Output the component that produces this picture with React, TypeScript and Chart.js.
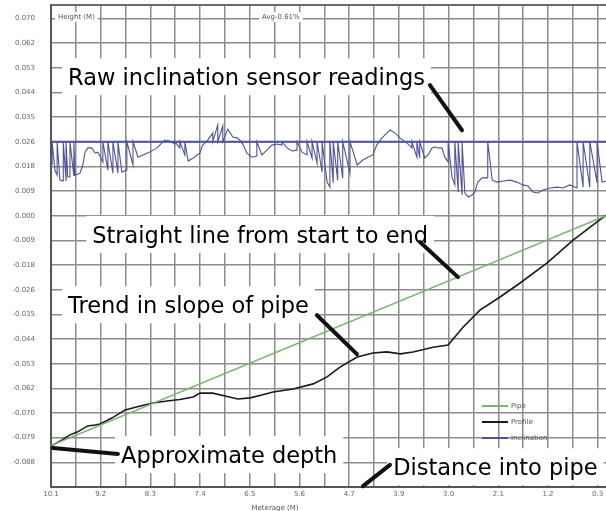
import React, { useEffect, useRef } from 'react';
import { Chart, registerables } from 'chart.js';

Chart.register(...registerables);

// ---- axis definitions ----
const X_TICK_LABELS = ['10.1', '9.2', '8.3', '7.4', '6.5', '5.6', '4.7', '3.9', '3.0', '2.1', '1.2', '0.3'];
const Y_TICK_LABELS = ['0.070', '0.062', '0.053', '0.044', '0.035', '0.026', '0.018', '0.009', '0.000', '-0.009', '-0.018', '-0.026', '-0.035', '-0.044', '-0.053', '-0.062', '-0.070', '-0.079', '-0.088'];
const X_START = 10.1;
const X_END = 0.15;
const X_LABEL_STEP = 0.891;
const Y_STEP = 0.0088;
const Y_MIN = -0.0968;
const Y_MAX = 0.0752;

// ---- series (meterage, height) ----
const PIPE: [number, number][] = [[10.1, -0.082], [0.15, 0.0]];

const PROFILE: [number, number][] = [
  [10.1, -0.0822], [9.9, -0.08], [9.76, -0.0782], [9.63, -0.0772], [9.44, -0.075], [9.31, -0.0747],
  [9.22, -0.0743], [9.01, -0.0722], [8.77, -0.0693], [8.5, -0.0679], [8.27, -0.0668], [8.02, -0.0661],
  [7.79, -0.0656], [7.55, -0.0647], [7.43, -0.0633], [7.2, -0.0633], [6.98, -0.0643], [6.75, -0.0654],
  [6.53, -0.065], [6.32, -0.064], [6.12, -0.0629], [5.76, -0.0618], [5.4, -0.06], [5.15, -0.0575],
  [4.92, -0.054], [4.61, -0.0504], [4.33, -0.049], [4.08, -0.0486], [3.84, -0.0493], [3.61, -0.0486],
  [3.25, -0.0469], [2.98, -0.0461], [2.71, -0.0397], [2.41, -0.0337], [2.05, -0.029], [1.69, -0.024],
  [1.21, -0.0169], [0.74, -0.0087], [0.31, -0.0022], [0.15, 0.0002],
];

const INCL_BASE = 0.0264;
const B = INCL_BASE;
const INCLINATION: [number, number][] = [
  [10.08, 0.0181], [10.08, B], [10.03, 0.0163], [9.99, 0.0145], [9.99, B], [9.94, 0.0127],
  [9.88, 0.0124], [9.88, B], [9.83, 0.0124], [9.83, B], [9.8, 0.0138], [9.76, 0.0138], [9.76, B],
  [9.69, 0.0141], [9.69, B], [9.67, 0.0145], [9.58, 0.0152], [9.53, 0.0181], [9.49, 0.0227],
  [9.44, 0.0242], [9.37, 0.0242], [9.31, 0.0224], [9.26, 0.0227], [9.17, 0.0192], [9.17, B],
  [9.08, 0.0163], [9.08, B], [8.99, 0.0152], [8.99, B], [8.9, 0.0152], [8.9, B], [8.83, 0.0156],
  [8.74, 0.0163], [8.74, B], [8.63, 0.0181], [8.63, B], [8.54, 0.0209], [8.45, 0.0217], [8.33, 0.0227],
  [8.2, 0.0242], [8.11, 0.026], [8.06, 0.027], [7.97, 0.0267], [7.88, 0.0256], [7.88, B],
  [7.79, 0.0242], [7.79, B], [7.7, 0.0217], [7.7, B], [7.64, 0.0195], [7.55, 0.0206], [7.43, 0.0224],
  [7.38, 0.0252], [7.29, 0.027], [7.2, 0.0295], [7.2, B], [7.11, 0.0324], [7.11, B], [7.02, 0.032],
  [7.02, B], [6.93, 0.0309], [6.84, 0.0281], [6.75, 0.0277], [6.68, 0.026], [6.68, B], [6.59, 0.0224],
  [6.5, 0.0209], [6.41, 0.0213], [6.41, B], [6.32, 0.0217], [6.23, 0.0234], [6.14, 0.0252],
  [6.05, 0.0256], [5.96, 0.0252], [5.96, B], [5.87, 0.0242], [5.78, 0.0231], [5.69, 0.0234], [5.69, B],
  [5.6, 0.0227], [5.51, 0.0217], [5.51, B], [5.42, 0.0206], [5.42, B], [5.33, 0.0188], [5.33, B],
  [5.24, 0.0156], [5.24, B], [5.15, 0.012], [5.1, 0.0102], [5.1, B], [5.04, 0.0117], [5.04, B],
  [4.96, 0.0127], [4.96, B], [4.87, 0.0135], [4.87, B], [4.74, 0.0152], [4.74, B], [4.61, 0.0181],
  [4.51, 0.0199], [4.42, 0.0209], [4.33, 0.0217], [4.26, 0.0252], [4.17, 0.0277], [4.08, 0.0295],
  [4.02, 0.0306], [3.93, 0.0295], [3.84, 0.0277], [3.72, 0.026], [3.63, 0.0242], [3.63, B],
  [3.54, 0.0209], [3.54, B], [3.49, 0.0206], [3.49, B], [3.4, 0.0206], [3.34, 0.0217], [3.27, 0.0242],
  [3.22, 0.0245], [3.16, 0.0242], [3.09, 0.0242], [3.04, 0.0209], [2.98, 0.0192], [2.98, B],
  [2.91, 0.0138], [2.86, 0.011], [2.86, B], [2.8, 0.0085], [2.8, B], [2.73, 0.0074], [2.73, B],
  [2.68, 0.0081], [2.62, 0.0067], [2.55, 0.0074], [2.5, 0.0085], [2.45, 0.012], [2.37, 0.0135],
  [2.27, 0.0135], [2.27, B], [2.19, 0.0127], [2.1, 0.012], [1.99, 0.0124], [1.87, 0.0127],
  [1.75, 0.012], [1.64, 0.011], [1.55, 0.0106], [1.46, 0.0085], [1.37, 0.0081], [1.28, 0.0092],
  [1.15, 0.0099], [1.03, 0.0102], [0.92, 0.0099], [0.8, 0.011], [0.67, 0.0099], [0.67, B],
  [0.56, 0.0102], [0.56, B], [0.44, 0.0102], [0.44, B], [0.31, 0.0117], [0.31, B], [0.22, 0.012],
  [0.15, 0.0124],
];

// ---- legend & annotations ----
const SERIES_NAMES = ['Pipe', 'Profile', 'Inclination'];
const COLORS = { pipe: '#74b86b', profile: '#1a1a1a', incl: '#50509e' };

// text: left edge (meterage) & baseline (height)
const NOTES = [
  { text: 'Raw inclination sensor readings', m: 9.795, v: 0.0466 },
  { text: 'Straight line from start to end', m: 9.361, v: -0.0097 },
  { text: 'Trend in slope of pipe', m: 9.795, v: -0.0348 },
  { text: 'Approximate depth', m: 8.845, v: -0.0883 },
  { text: 'Distance into pipe', m: 3.965, v: -0.0926 },
];
const POINTERS: [number, number, number, number][] = [
  [3.306, 0.0466, 2.732, 0.0305],
  [3.485, -0.0094, 2.804, -0.0219],
  [5.332, -0.0355, 4.615, -0.0494],
  [10.064, -0.0829, 8.899, -0.0850],
  [4.507, -0.0965, 4.023, -0.0889],
];

const NOTE_FONT = '22.5px "DejaVu Sans"';
const SMALL_FONT = '7px "DejaVu Sans"';

const toXY = (arr: [number, number][]) => arr.map(([x, y]) => ({ x, y }));

const notesPlugin = {
  id: 'notes',
  beforeDatasetsDraw(chart: any) {
    const { ctx, chartArea: a, scales } = chart;
    const x = scales.x, y = scales.y;
    ctx.save();
    // top frame line
    ctx.strokeStyle = '#6a6a6a';
    ctx.lineWidth = 2;
    ctx.beginPath();
    ctx.moveTo(a.left, a.top);
    ctx.lineTo(a.right, a.top);
    ctx.stroke();
    // white boxes behind annotation text
    ctx.fillStyle = '#ffffff';
    ctx.font = NOTE_FONT;
    for (const n of NOTES) {
      const px = x.getPixelForValue(n.m);
      const py = y.getPixelForValue(n.v);
      const w = ctx.measureText(n.text).width;
      ctx.fillRect(px - 6, py - 27, w + 12, 37);
    }
    ctx.font = SMALL_FONT;
    const smalls = [
      { t: 'Height (M)', x: a.left + 7, y: a.top + 12 },
      { t: 'Avg-0.61%', x: a.left + 211, y: a.top + 12 },
    ];
    for (const s of smalls) {
      const w = ctx.measureText(s.t).width;
      ctx.fillRect(s.x - 3, s.y - 5, w + 6, 10);
    }
    ctx.restore();
  },
  afterDatasetsDraw(chart: any) {
    const { ctx, chartArea: a, scales } = chart;
    const x = scales.x, y = scales.y;
    ctx.save();
    // small labels
    ctx.font = SMALL_FONT;
    ctx.fillStyle = '#555';
    ctx.textBaseline = 'middle';
    ctx.textAlign = 'left';
    ctx.fillText('Height (M)', a.left + 7, a.top + 12);
    ctx.fillText('Avg-0.61%', a.left + 211, a.top + 12);
    ctx.textAlign = 'center';
    ctx.fillText('Meterage (M)', a.left + 224, a.bottom + 21);
    // legend
    const cols = [COLORS.pipe, COLORS.profile, COLORS.incl];
    SERIES_NAMES.forEach((name, i) => {
      const ly = a.bottom - 81 + i * 16;
      ctx.strokeStyle = cols[i];
      ctx.lineWidth = 2;
      ctx.beginPath();
      ctx.moveTo(a.right - 124, ly);
      ctx.lineTo(a.right - 98, ly);
      ctx.stroke();
      ctx.fillStyle = '#555';
      ctx.textAlign = 'left';
      ctx.fillText(name, a.right - 95, ly);
    });
    // annotation text
    ctx.font = NOTE_FONT;
    ctx.fillStyle = '#000';
    ctx.textAlign = 'left';
    ctx.textBaseline = 'alphabetic';
    for (const n of NOTES) {
      ctx.fillText(n.text, x.getPixelForValue(n.m), y.getPixelForValue(n.v));
    }
    // pointer strokes
    ctx.strokeStyle = '#111';
    ctx.lineWidth = 4;
    ctx.lineCap = 'round';
    for (const [m1, v1, m2, v2] of POINTERS) {
      ctx.beginPath();
      ctx.moveTo(x.getPixelForValue(m1), y.getPixelForValue(v1));
      ctx.lineTo(x.getPixelForValue(m2), y.getPixelForValue(v2));
      ctx.stroke();
    }
    ctx.restore();
  },
};

export default function App() {
  const ref = useRef<HTMLCanvasElement | null>(null);
  useEffect(() => {
    if (!ref.current) return;
    const half = X_LABEL_STEP / 2;
    const xTicks: number[] = [];
    for (let i = 0; i <= 2 * (X_TICK_LABELS.length - 1); i++) xTicks.push(X_START - i * half);
    const yTicks = Y_TICK_LABELS.map((_, j) => (8 - j) * Y_STEP);
    const chart = new Chart(ref.current, {
      type: 'line',
      data: {
        datasets: [
          { label: 'Pipe', data: toXY(PIPE), borderColor: COLORS.pipe, borderWidth: 1.6, pointRadius: 0 },
          { label: 'Profile', data: toXY(PROFILE), borderColor: COLORS.profile, borderWidth: 1.6, pointRadius: 0 },
          { label: 'Inclination', data: toXY(INCLINATION), borderColor: COLORS.incl, borderWidth: 1.1, pointRadius: 0 },
          { label: 'base', data: [{ x: X_START, y: INCL_BASE }, { x: X_END, y: INCL_BASE }], borderColor: COLORS.incl, borderWidth: 2, pointRadius: 0 },
        ],
      },
      options: {
        animation: false,
        responsive: true,
        maintainAspectRatio: false,
        layout: { padding: { top: 5, right: 0, bottom: 0, left: 0 } },
        plugins: { legend: { display: false }, tooltip: { enabled: false } },
        scales: {
          x: {
            type: 'linear',
            reverse: true,
            min: X_END,
            max: X_START,
            afterBuildTicks: (s: any) => { s.ticks = xTicks.map((v) => ({ value: v })); },
            afterFit: (s: any) => { s.height = 24; s.paddingLeft = 0; s.paddingRight = 0; },
            grid: { color: '#8c8c8c', lineWidth: 1.5, drawTicks: false },
            border: { color: '#555', width: 2 },
            ticks: {
              autoSkip: false,
              maxRotation: 0,
              padding: 3,
              color: '#666',
              font: { size: 7, family: 'DejaVu Sans' },
              callback: (value: any) => {
                const i = Math.round((X_START - Number(value)) / half);
                return i % 2 === 0 ? X_TICK_LABELS[i / 2] : '';
              },
            },
          },
          y: {
            type: 'linear',
            min: Y_MIN,
            max: Y_MAX,
            afterBuildTicks: (s: any) => { s.ticks = yTicks.slice().reverse().map((v) => ({ value: v })); },
            afterFit: (s: any) => { s.width = 51; s.paddingTop = 0; s.paddingBottom = 0; },
            grid: { color: '#8c8c8c', lineWidth: 1.5, drawTicks: false },
            border: { color: '#555', width: 2 },
            ticks: {
              autoSkip: false,
              padding: 16,
              color: '#666',
              font: { size: 7, family: 'DejaVu Sans' },
              callback: (value: any) => Y_TICK_LABELS[Math.round(8 - Number(value) / Y_STEP)],
            },
          },
        },
      },
      plugins: [notesPlugin],
    } as any);
    return () => chart.destroy();
  }, []);
  return (
    <div style={{ position: 'fixed', left: 0, top: 0, width: 606, height: 511, background: '#fff' }}>
      <canvas ref={ref} />
    </div>
  );
}
